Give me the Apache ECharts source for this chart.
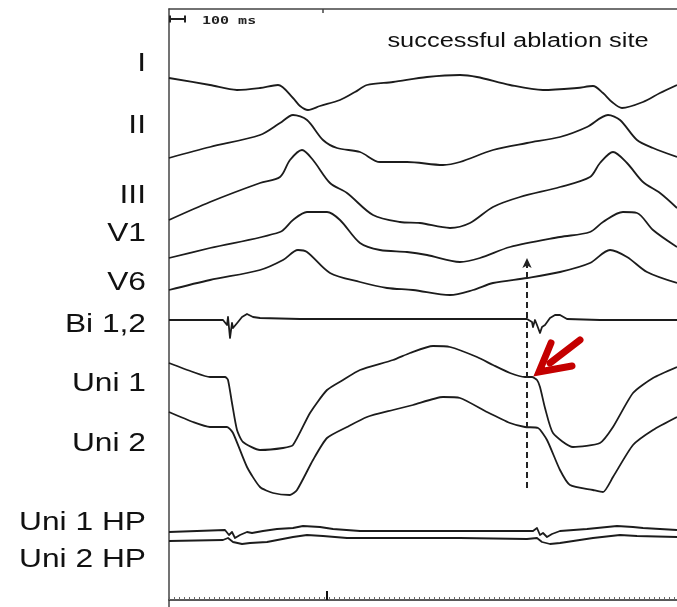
<!DOCTYPE html>
<html>
<head>
<meta charset="utf-8">
<script src="https://cdn.jsdelivr.net/npm/echarts@6/dist/echarts.min.js"></script>
<style>
html,body{margin:0;padding:0;background:#fff;}
#chart{width:677px;height:607px;}
</style>
</head>
<body>
<div id="chart"></div>
<script>
// ---- data: time t (arbitrary units), value (vertical position units, inverted axis) ----
const traceNames = ['I', 'II', 'III', 'V1', 'V6', 'Bi 1,2', 'Uni 1', 'Uni 2', 'Uni 1 HP', 'Uni 2 HP'];

const leadI = [[0,78],[41,85],[68,90],[91,88],[109,85],[124,98],[131,106],[139,110],[151,106],[171,100],[186,92],[198,85],[224,82],[258,77],[291,75],[308,77],[341,85],[374,90],[408,88],[424,86],[434,93],[443,102],[453,108],[474,102],[491,93],[508,85]];
const leadII = [[0,158],[41,147],[91,135],[111,123],[124,115],[138,120],[154,140],[168,148],[191,152],[211,162],[238,162],[274,165],[291,162],[324,150],[358,143],[391,137],[418,127],[439,115],[451,120],[468,140],[484,148],[508,157]];
const leadIII = [[0,220],[41,202],[91,183],[111,177],[121,160],[133,150],[144,160],[161,183],[178,193],[204,215],[231,222],[251,223],[281,228],[301,223],[324,207],[351,197],[391,187],[421,177],[431,163],[444,152],[458,163],[474,182],[491,193],[508,208]];
const leadV1 = [[0,258],[41,248],[111,232],[124,220],[138,212],[158,212],[171,220],[191,243],[211,250],[238,252],[258,255],[291,262],[311,258],[341,247],[391,237],[421,232],[434,222],[454,212],[468,213],[484,230],[508,247]];
const leadV6 = [[0,290],[41,280],[91,270],[114,260],[129,250],[138,252],[161,273],[191,282],[218,288],[244,290],[281,295],[304,290],[324,283],[358,278],[391,272],[421,263],[441,250],[458,257],[478,272],[508,283]];
const bi12 = [[0,320],[54,320],[58,325],[59,317],[61,338],[63,323],[64,328],[66,330],[69,322],[73,317],[78,314],[84,317],[91,318],[131,319],[358,319],[363,322],[364,327],[366,320],[368,325],[371,333],[373,327],[376,325],[381,318],[386,315],[391,315],[398,319],[431,320],[508,320]];
const uni1 = [[0,363],[24,372],[41,377],[56,377],[59,380],[63,403],[68,430],[74,442],[91,450],[114,448],[124,445],[141,413],[158,390],[174,380],[191,370],[224,360],[241,353],[264,346],[281,347],[308,357],[324,365],[341,373],[356,377],[363,377],[368,380],[371,387],[376,408],[384,433],[404,447],[431,443],[444,427],[464,393],[484,378],[508,367]];
const uni2 = [[0,412],[24,422],[41,427],[58,427],[64,433],[78,467],[91,487],[104,493],[121,495],[128,490],[144,460],[158,438],[178,427],[198,417],[224,410],[244,405],[274,397],[291,398],[318,412],[341,423],[356,427],[369,428],[378,440],[391,470],[401,485],[424,490],[434,492],[444,477],[464,445],[484,430],[508,417]];
const uni1HP = [[0,532],[56,530],[58,528],[60,535],[63,532],[66,538],[71,535],[78,532],[83,533],[94,531],[108,529],[124,528],[134,526],[151,527],[164,529],[191,531],[258,531],[324,531],[364,531],[368,528],[371,535],[374,533],[378,537],[383,534],[391,531],[418,529],[448,526],[464,527],[474,528],[508,530]];
const uni2HP = [[0,541],[54,540],[59,538],[64,542],[73,544],[81,543],[98,542],[124,537],[138,535],[154,536],[178,538],[224,538],[291,538],[358,539],[368,538],[373,542],[381,544],[391,543],[424,538],[451,535],[468,536],[508,537]];

// annotations
const dashedMarker = [[358,488],[358,258]];
const redArrowShaft = [[411,340],[381,363]];
const redArrowHead = [[382,343],[370,372],[403,366]];
const scaleBar = [[1,19],[16,19]];
const scaleLabel = '100 ms';
const titleText = 'successful ablation site';
const topMarkerTick = [154];
const bottomMajorTick = [158];

// ---- layout (not data) ----
const labelY = [64,126,196,234,283,325,384,444,523,560];

const traceData = [leadI, leadII, leadIII, leadV1, leadV6, bi12, uni1, uni2, uni1HP, uni2HP];
const smoothFor = [0.3,0.3,0.3,0.3,0.3,false,0.2,0.2,false,false];

const traceColor = '#1c1c1c';
const series = traceData.map((d, i) => ({
  type: 'line',
  name: traceNames[i],
  data: d,
  xAxisIndex: 0, yAxisIndex: 0,
  showSymbol: false,
  symbol: 'none',
  smooth: smoothFor[i],
  lineStyle: { color: traceColor, width: 1.8, join: 'round' },
  silent: true,
  z: 3
}));

series.push({
  type: 'line', data: [], xAxisIndex: 0, yAxisIndex: 0, silent: true,
  markLine: {
    silent: true, animation: false,
    symbol: ['none', 'arrow'], symbolSize: [7, 10],
    label: { show: false },
    lineStyle: { type: [6, 4], width: 2, color: '#222' },
    data: [[{ coord: dashedMarker[0] }, { coord: dashedMarker[1] }]]
  }
});
series.push({
  type: 'line', data: redArrowShaft, symbol: 'none', silent: true, z: 5,
  lineStyle: { color: '#c40000', width: 7, cap: 'round' }
});
series.push({
  type: 'line', data: redArrowHead, symbol: 'none', silent: true, z: 5,
  lineStyle: { color: '#c40000', width: 7, cap: 'round', join: 'miter' }
});
series.push({
  type: 'line', data: scaleBar, symbol: 'rect', symbolSize: [2, 7], showSymbol: true, silent: true,
  itemStyle: { color: '#222' },
  lineStyle: { color: '#222', width: 2 }
});

const graphics = traceNames.map((n, i) => ({
  type: 'text',
  x: 146, y: labelY[i],
  scaleX: 1.22,
  style: {
    text: n,
    font: '26px "Liberation Sans", Arial, sans-serif',
    fill: '#111',
    textAlign: 'right',
    textVerticalAlign: 'middle'
  }
}));
graphics.push({
  type: 'text', x: 518, y: 41, scaleX: 1.27,
  style: { text: titleText, font: '20px "Liberation Sans", Arial, sans-serif', fill: '#111',
    textAlign: 'center', textVerticalAlign: 'middle' }
});
graphics.push({
  type: 'text', x: 202, y: 21, scaleX: 1.5,
  style: { text: scaleLabel, font: 'bold 10px "DejaVu Sans Mono", monospace', fill: '#222',
    textAlign: 'left', textVerticalAlign: 'middle' }
});

const chart = echarts.init(document.getElementById('chart'), null, { renderer: 'canvas' });
chart.setOption({
  animation: false,
  backgroundColor: '#fff',
  grid: [
    { left: 169, right: 0, top: 9, bottom: 0 },
    { left: 169, right: 0, top: 599, height: 1 }
  ],
  xAxis: [
    { type: 'value', gridIndex: 0, min: 0, max: 508, position: 'top',
      axisLine: { show: true, onZero: false, lineStyle: { color: '#444', width: 1.5 } },
      axisTick: { show: true, inside: true, length: 4, customValues: topMarkerTick, lineStyle: { color: '#444', width: 1.5 } },
      axisLabel: { show: false }, splitLine: { show: false } },
    { type: 'value', gridIndex: 1, min: 0, max: 508, interval: 5, position: 'bottom',
      axisLine: { show: true, onZero: false, lineStyle: { color: '#222', width: 1.5 } },
      axisTick: { show: true, inside: true, length: 3, lineStyle: { color: '#666', width: 1 } },
      axisLabel: { show: false }, splitLine: { show: false } },
    { type: 'value', gridIndex: 1, min: 0, max: 508, position: 'bottom',
      axisLine: { show: false, onZero: false },
      axisTick: { show: true, inside: true, length: 9, customValues: bottomMajorTick, lineStyle: { color: '#111', width: 2 } },
      axisLabel: { show: false }, splitLine: { show: false } }
  ],
  yAxis: [
    { type: 'value', gridIndex: 0, min: 9, max: 607, inverse: true,
      axisLine: { show: true, onZero: false, lineStyle: { color: '#444', width: 1.5 } },
      axisTick: { show: false }, axisLabel: { show: false }, splitLine: { show: false } },
    { type: 'value', gridIndex: 1, min: 0, max: 1, show: false }
  ],
  series: series,
  graphic: graphics
});
</script>
</body>
</html>
